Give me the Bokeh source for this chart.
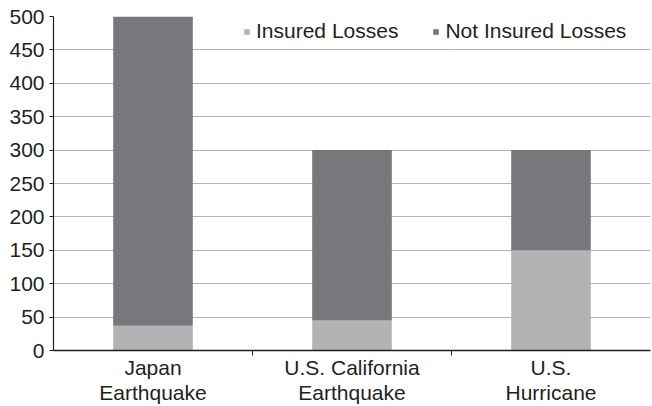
from bokeh.plotting import figure
from bokeh.models import ColumnDataSource, FixedTicker, Range1d, Legend, LegendItem
from bokeh.embed import file_html
from bokeh.resources import INLINE

categories = ["Japan\nEarthquake", "U.S. California\nEarthquake", "U.S.\nHurricane"]
insured = [37, 45, 150]
not_insured = [463, 255, 150]
y_ticks = [0, 50, 100, 150, 200, 250, 300, 350, 400, 450, 500]

xpos = [i + 0.5 for i in range(len(categories))]
src = ColumnDataSource(dict(x=xpos, insured=insured, not_insured=not_insured,
                            total=[a + b for a, b in zip(insured, not_insured)]))

p = figure(width=652, height=406, output_backend="svg", toolbar_location=None,
           x_range=Range1d(0, len(categories)), y_range=Range1d(0, 500),
           min_border_left=53, min_border_right=2, min_border_top=16, min_border_bottom=55)
p.outline_line_color = None
p.background_fill_color = "white"

r1 = p.vbar(x="x", bottom=0, top="insured", width=0.4, source=src,
            fill_color="#b3b3b5", line_color=None)
r2 = p.vbar(x="x", bottom="insured", top="total", width=0.4, source=src,
            fill_color="#77787b", line_color=None)

FONT = "Liberation Sans"
TXT = "#231f20"

# axes
p.xaxis.ticker = FixedTicker(ticks=xpos, minor_ticks=list(range(1, len(categories))))
p.xaxis.major_label_overrides = {x: c for x, c in zip(xpos, categories)}
p.xaxis.major_tick_line_color = None
p.xaxis.major_tick_in = 0
p.xaxis.major_tick_out = 0
p.xaxis.minor_tick_in = 0
p.xaxis.minor_tick_out = 5
p.xaxis.minor_tick_line_color = TXT
p.xaxis.axis_line_color = TXT
p.xaxis.axis_line_width = 1.5
p.xaxis.major_label_text_font = FONT
p.xaxis.major_label_text_font_size = "21px"
p.xaxis.major_label_text_line_height = 1.1
p.xaxis.major_label_text_color = TXT
p.xaxis.major_label_standoff = 0

p.yaxis.ticker = FixedTicker(ticks=y_ticks)
p.yaxis.minor_tick_line_color = None
p.yaxis.major_tick_in = 0
p.yaxis.major_tick_out = 4
p.yaxis.major_tick_line_color = TXT
p.yaxis.axis_line_color = TXT
p.yaxis.axis_line_width = 1.2
p.yaxis.major_label_text_font = FONT
p.yaxis.major_label_text_font_size = "21px"
p.yaxis.major_label_text_color = TXT
p.yaxis.major_label_standoff = 5

p.xgrid.grid_line_color = None
p.ygrid.grid_line_color = "#b3b3b3"
p.ygrid.grid_line_width = 1.2

legend = Legend(items=[LegendItem(label="Insured Losses", renderers=[r1]),
                       LegendItem(label="Not Insured Losses", renderers=[r2])],
                orientation="horizontal", location=(190, 307),
                label_text_font=FONT, label_text_font_size="21px",
                label_text_color=TXT,
                glyph_width=7, glyph_height=7, spacing=34, label_standoff=6,
                border_line_color=None, background_fill_alpha=0,
                margin=0, padding=4)
p.add_layout(legend)

open("out.html", "w").write(file_html(p, INLINE))
